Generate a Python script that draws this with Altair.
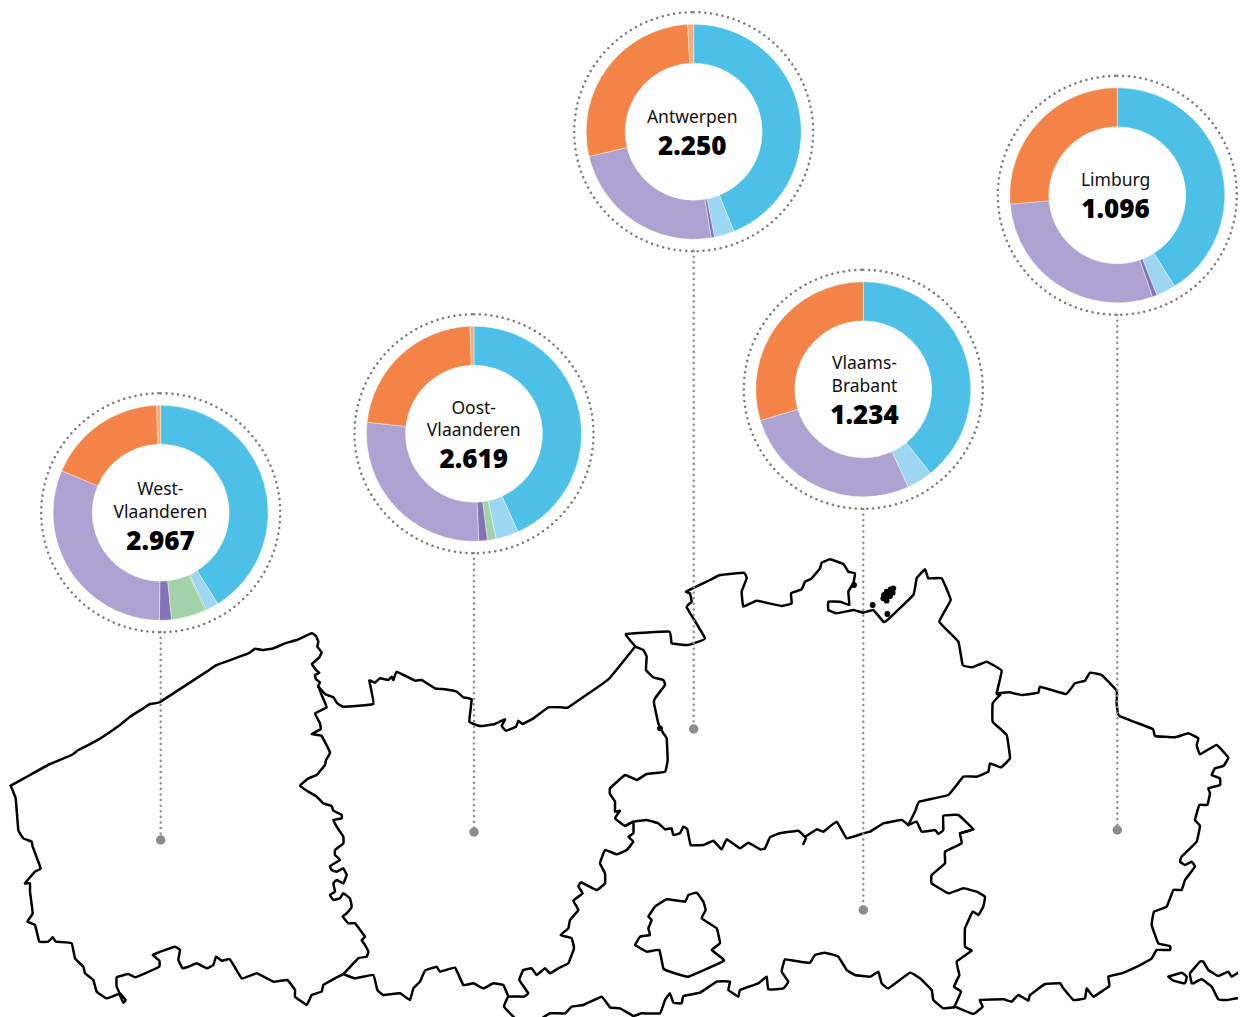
import altair as alt
import pandas as pd

# ---- donuts -------------------------------------------------------------
provinces = ["West", "Oost", "Antwerpen", "Vlaams", "Limburg"]
center_x = [160.7, 474.0, 693.7, 863.3, 1117.3]
center_y = [512.7, 433.7, 131.7, 389.3, 195.3]
text_x = [160.4, 473.7, 692.2, 864.4, 1115.6]
pin_y = [840, 832, 729, 910, 830]
line_top = [632, 553, 251, 509, 315]
name_lines = [["West-", "Vlaanderen"], ["Oost-", "Vlaanderen"], ["Antwerpen"], ["Vlaams-", "Brabant"], ["Limburg"]]
totals = ["2.967", "2.619", "2.250", "1.234", "1.096"]
total_y = [542, 460, 147, 416, 210]
name_y = [[490, 513], [409, 431], [118], [364, 387], [181]]

categories = ["blauw", "lichtblauw", "donkergroen", "groen", "donkerpaars", "paars", "oranje", "lichtoranje"]
colors = ["#4cc0e6", "#9dd6f0", "#6fb67a", "#a3d2a9", "#8574b5", "#ada2d1", "#f38347", "#f7ab7d"]
share_west = [41.1, 1.9, 0.2, 5.2, 1.8, 31.2, 18.0, 0.6]
share_oost = [43.3, 3.4, 0.0, 1.3, 1.3, 27.4, 22.7, 0.6]
share_antw = [43.9, 3.0, 0.0, 0.0, 0.5, 23.9, 27.8, 0.9]
share_vb = [39.25, 3.9, 0.0, 0.0, 0.0, 27.15, 29.7, 0.0]
share_limb = [41.05, 2.95, 0.0, 0.0, 0.7, 29.0, 26.3, 0.0]
shares = [share_west, share_oost, share_antw, share_vb, share_limb]

# ---- map outlines (zoom crop coords + origin) --
west = [(32,497),(90,465),(150,432),(215,405),(235,390),(290,362),(360,315),(390,290),(430,265),(450,252),(480,246),(620,155),(650,135),(745,100),(765,86),(790,90),(820,85),(855,70),(890,60),(935,40),(948,48),(955,65),(952,80),(965,97),(958,112),(936,132),(948,150),(958,158),(945,165),(948,178),(960,187),(955,197),(965,225),(980,262),(945,280),(960,310),(962,328),(935,342),(965,348),(990,397),(978,420),(975,435),(950,465),(925,475),(900,497),(925,515),(950,530),(970,550),(995,558),(1000,572),(1025,585),(1025,595),(1000,600),(1010,620),(1030,650),(1030,670),(1005,690),(1005,705),(1020,720),(990,738),(995,750),(1010,755),(1030,745),(1040,765),(1030,790),(1010,780),(1000,790),(1005,815),(990,825),(1000,840),(1020,835),(1030,820),(1050,835),(1055,860),(1040,880),(1028,890),(1045,910),(1065,910),(1095,950),(1085,960),(1095,975),(1105,995),(1100,1010),(1075,1015),(1030,1062),(1005,1075),(970,1095),(965,1115),(935,1125),(920,1155),(885,1130),(885,1110),(862,1080),(820,1085),(770,1060),(725,1075),(690,1018),(665,1022),(648,1010),(640,1035),(620,1045),(590,1030),(565,1040),(548,1045),(535,1020),(540,990),(525,980),(490,992),(458,1005),(478,1022),(478,1040),(435,1060),(405,1072),(385,1062),(350,1072),(350,1100),(358,1120),(320,1135),(290,1115),(280,1080),(255,1060),(250,1040),(225,1015),(215,970),(168,965),(158,952),(145,965),(118,965),(105,915),(82,905),(98,880),(90,815),(90,790),(75,790),(105,755),(122,745),(98,680),(95,665),(70,655),(55,630),(47,535),(32,497)]
west_tip = [(358,1122),(370,1148),(377,1140),(360,1120)]
oost_north = [(55,200),(75,222),(100,232),(112,250),(130,260),(220,252),(208,182),(225,188),(240,175),(265,180),(275,170),(280,180),(290,155),(345,182),(365,180),(405,205),(435,208),(470,215),(490,232),(515,238),(508,305),(540,318),(585,312),(615,298),(605,318),(618,332),(648,320),(655,302),(668,312),(700,295),(745,262),(785,262),(805,262),(925,178),(1005,80)]
oost_east = [(1005,80),(1030,90),(1040,110),(1038,150),(1060,172),(1090,180),(1095,195),(1065,235),(1062,250),(1075,310),(1090,340),(1100,355),(1103,420),(1095,455),(1040,462),(1010,480),(975,465),(930,505),(930,522),(945,545),(945,575),(960,572),(945,595),(975,618),(1000,605),(1000,640),(985,650),(1000,665),(980,690),(950,703),(915,690),(900,730),(915,760),(915,790),(890,810),(843,787),(835,800),(848,820),(820,842),(835,870),(810,900),(805,925),(782,945),(815,955),(822,985),(805,1030),(775,1045),(750,1060),(735,1045),(710,1065),(695,1045),(670,1050),(658,1080),(685,1120),(670,1130),(625,1130),(612,1160),(640,1190),(650,1200)]
oost_south = [(130,1062),(165,1075),(220,1065),(232,1110),(250,1125),(300,1120),(330,1140),(340,1105),(360,1085),(375,1052),(410,1040),(420,1055),(465,1043),(490,1095),(520,1090),(550,1105),(580,1090),(610,1095),(625,1130)]
antw_south = [(75,828),(100,815),(140,810),(175,820),(195,838),(215,835),(220,855),(240,850),(250,830),(262,838),(272,885),(310,885),(340,872),(365,898),(380,868),(420,895),(445,878),(480,898),(495,895),(510,862),(540,850),(595,842),(615,860),(650,838),(670,845),(710,815),(740,865),(790,850),(810,845),(850,820),(905,810),(925,825)]
antw_mark = [(610,882),(618,865)]
vb_loop = [(925,825),(950,815),(965,845),(1005,840),(1015,852),(1030,840),(1030,797),(1075,795),(1120,838),(1080,850)]
vb_east = [(1420,88),(1380,100),(1385,130),(1335,155),(1335,190),(1295,225),(1295,250),(1345,280),(1390,265),(1430,275),(1455,290),(1450,320),(1435,345),(1418,335),(1395,385),(1395,440),(1415,452),(1370,485),(1378,525),(1362,560),(1383,575),(1362,622)]
vb_south = [(1362,622),(1330,625),(1300,600),(1295,570),(1260,535),(1230,518),(1165,565),(1145,550),(1135,515),(1110,530),(1065,525),(1040,510),(1015,470),(975,458),(945,465),(930,488),(900,485),(855,478),(845,515),(865,545),(850,565),(805,568),(800,530),(775,550),(720,570),(715,590),(685,570),(690,545),(650,545),(600,578),(550,588),(545,610),(520,608),(510,580),(495,600),(480,640),(425,640),(400,648),(360,625),(330,622),(305,590),(250,615),(215,620),(195,640),(150,640),(130,652)]
brussels = [(405,435),(420,410),(450,405),(445,385),(455,360),(445,350),(465,320),(500,298),(555,305),(565,285),(590,278),(610,305),(617,330),(605,355),(650,385),(660,430),(635,450),(672,482),(565,530),(510,515),(490,505),(478,450),(440,455),(405,435)]
antw_north = [(105,288),(78,252),(208,245),(215,280),(265,285),(315,265),(260,172),(275,155),(270,130),(258,125),(330,90),(360,75),(432,68),(440,85),(425,125),(430,170),(470,152),(545,168),(575,160),(573,130),(605,118),(615,95),(635,85),(660,55),(665,38),(690,28),(730,42),(745,65),(765,70),(760,100),(745,125),(748,165),(720,155),(685,155),(685,180),(710,190),(760,180),(790,188),(820,180),(850,215),(860,212),(940,135),(950,85),(975,58),(985,85),(1025,85),(1052,150),(1018,215),(1075,275),(1088,345),(1118,352),(1160,335),(1205,362),(1190,430),(1200,435)]
antw_east = [(1200,435),(1178,460),(1178,515),(1220,555),(1230,625),(1203,652),(1170,640),(1165,665),(1130,680),(1090,680),(1045,735),(958,755),(945,785),(925,825)]
limburg = [(205,100),(238,97),(275,105),(325,98),(330,80),(408,102),(435,70),(465,62),(480,38),(515,45),(560,92),(560,130),(567,167),(668,207),(675,228),(735,232),(775,220),(805,235),(800,255),(810,283),(860,255),(895,293),(880,318),(855,325),(845,345),(870,355),(870,375),(835,385),(840,400),(832,435),(808,435),(795,480),(810,497),(800,545),(755,590),(750,605),(765,615),(785,605),(795,620),(765,660),(755,690),(730,690),(710,740),(672,755),(665,795),(685,850),(720,858),(720,870),(680,870),(665,895),(640,910),(610,925),(575,940),(535,950),(538,978),(490,1010),(470,985),(465,1015),(430,1020),(400,985),(390,970),(345,972),(300,1005),(295,1022),(265,1005),(245,1025),(220,1018),(150,1020),(158,1040),(130,1062),(75,1040)]
voeren_a = [(55,80),(95,68),(110,80),(105,100),(70,92),(55,80)]
voeren_b = [(125,100),(120,70),(150,35),(160,35),(175,60),(205,78),(235,65),(245,80),(285,55)]
voeren_c = [(130,100),(155,88),(185,110),(205,148),(230,150),(265,145),(285,155)]
islets = [(880,115),(872,118),(868,128),(878,128),(860,125),(852,135),(860,140),(870,138),(850,145),(860,152),(818,165),(862,192),(762,105),(180,535)]

outlines = [
    ("west", west, 0, 620), ("west_tip", west_tip, 0, 620),
    ("oost_north", oost_north, 300, 620), ("oost_east", oost_east, 300, 620), ("oost_south", oost_south, 300, 620),
    ("antw_south", antw_south, 600, 550), ("antw_mark", antw_mark, 600, 550), ("vb_loop", vb_loop, 600, 550),
    ("vb_east", vb_east, 500, 800), ("vb_south", vb_south, 500, 800), ("brussels", brussels, 500, 800),
    ("antw_north", antw_north, 600, 550), ("antw_east", antw_east, 600, 550),
    ("limburg", limburg, 930, 660), ("voeren_a", voeren_a, 1150, 950), ("voeren_b", voeren_b, 1150, 950), ("voeren_c", voeren_c, 1150, 950),
]

map_rows = []
for name, pts, ox, oy in outlines:
    for i, (zx, zy) in enumerate(pts):
        map_rows.append({"path": name, "i": i, "x": ox + zx / 3, "y": oy + zy / 3})
map_df = pd.DataFrame(map_rows)
islet_df = pd.DataFrame([{"x": 600 + a / 3, "y": 550 + b / 3} for a, b in islets])

arc_rows = []
for p, cx, cy, sh in zip(provinces, center_x, center_y, shares):
    run = 0.0
    for c, v in zip(categories, sh):
        if v > 0:
            arc_rows.append({"p": p, "cx": cx, "cy": cy, "cat": c, "start": run, "end": run + v})
        run += v
arc_df = pd.DataFrame(arc_rows)

center_df = pd.DataFrame({"cx": center_x, "cy": center_y, "tx": text_x, "pin": pin_y, "top": line_top, "total": totals, "ty": total_y})
name_df = pd.DataFrame([{"tx": tx, "y": y, "t": t}
                        for tx, ls, ys in zip(text_x, name_lines, name_y) for t, y in zip(ls, ys)])

xs = alt.Scale(domain=[8, 1238], nice=False, zero=False)
ys_ = alt.Scale(domain=[8, 1017], nice=False, zero=False, reverse=True)
X = lambda f: alt.X(f, type="quantitative", scale=xs, axis=None)
Y = lambda f: alt.Y(f, type="quantitative", scale=ys_, axis=None)

map_layer = alt.Chart(map_df).mark_line(color="#000000", strokeWidth=2.5, strokeJoin="round", strokeCap="round", clip=True,
                                        interpolate="cardinal", tension=0.75).encode(
    x=X("x"), y=Y("y"), detail="path:N", order="i:Q")
islet_layer = alt.Chart(islet_df).mark_circle(color="#000000", size=34, opacity=1).encode(x=X("x"), y=Y("y"))
rule_layer = alt.Chart(center_df).mark_rule(color="#8c8c8c", strokeWidth=2.4, strokeDash=[0.1, 5.5], strokeCap="round").encode(
    x=X("cx"), y=Y("top"), y2="pin:Q")
pin_layer = alt.Chart(center_df).mark_circle(color="#8c8c8c", size=90, opacity=1).encode(x=X("cx"), y=Y("pin"))
ring_layer = alt.Chart(center_df).mark_arc(outerRadius=119.5, innerRadius=0, theta=0, theta2=6.2832, stroke="#7d7d7d", strokeWidth=2.5,
                                           strokeDash=[0.1, 5.7], strokeCap="round", fillOpacity=0).encode(x=X("cx"), y=Y("cy"))
arc_layer = alt.Chart(arc_df).mark_arc(outerRadius=107.5, innerRadius=68.5, stroke="#ffffff", strokeWidth=0.4).encode(
    x=X("cx"), y=Y("cy"),
    theta=alt.Theta("start:Q", scale=alt.Scale(domain=[0, 100], range=[0, 6.283185])),
    theta2="end:Q",
    color=alt.Color("cat:N", scale=alt.Scale(domain=categories, range=colors), legend=None))
name_layer = alt.Chart(name_df).mark_text(font="Noto Sans", fontSize=17.5, color="#111111", align="center", baseline="middle").encode(
    x=X("tx"), y=Y("y"), text="t:N")
total_layer = alt.Chart(center_df).mark_text(font="Noto Sans", fontSize=26, fontWeight=900, color="#000000", align="center", baseline="middle").encode(
    x=X("tx"), y=Y("ty"), text="total:N")

chart = alt.layer(map_layer, islet_layer, rule_layer, pin_layer, ring_layer, arc_layer, name_layer, total_layer).properties(
    width=1230, height=1009, padding=0, autosize=alt.AutoSizeParams(type="none"), background="#ffffff"
).configure_view(stroke=None)

chart.save("out.html", embed_options={"renderer": "svg", "actions": False})
